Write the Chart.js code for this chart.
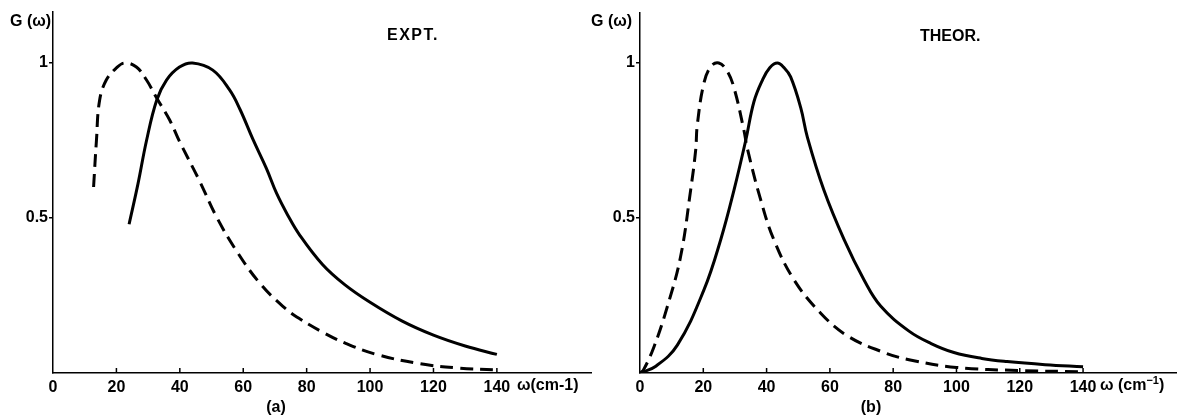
<!DOCTYPE html>
<html>
<head>
<meta charset="utf-8">
<title>G(omega) expt / theor</title>
<script src="https://cdn.jsdelivr.net/npm/chart.js@4.4.1/dist/chart.umd.min.js"></script>
<style>
	html, body { margin: 0; padding: 0; background: #fff; overflow: hidden; }
	#wrap { position: relative; width: 1177px; height: 416px; }
	#exptchart { position: absolute; left: 0; top: 0; }
	#theorchart { position: absolute; left: 590px; top: 0; }
</style>
</head>
<body>
<div id="wrap">
	<canvas id="exptchart" width="592" height="416"></canvas>
	<canvas id="theorchart" width="588" height="416"></canvas>
</div>
<script>
	"use strict";

	// axis ticks
	var xTicks = [0, 20, 40, 60, 80, 100, 120, 140];
	var yTicks = [0.5, 1];

	// (a) EXPT. - solid curve
	var exptSolidW = [24, 26.8, 29.5, 32.7, 35.8, 39.9, 44, 50.4, 55.7, 59, 63, 67.3, 70.5, 74, 77.8, 85, 92, 100, 110, 120, 130, 140];
	var exptSolidG = [0.48, 0.61, 0.75, 0.88, 0.945, 0.987, 1.0, 0.977, 0.913, 0.85, 0.755, 0.66, 0.58, 0.51, 0.445, 0.35, 0.285, 0.228, 0.168, 0.122, 0.087, 0.06];

	// (a) EXPT. - dashed curve
	var exptDashW = [12.8, 13.7, 14.7, 16.8, 20, 22.6, 26.3, 29.5, 32.7, 36.8, 40, 46.2, 51.5, 57.8, 65.2, 72.5, 77.8, 85, 92, 102, 115.7, 128, 140];
	var exptDashG = [0.6, 0.75, 0.88, 0.945, 0.984, 1.0, 0.987, 0.945, 0.887, 0.816, 0.745, 0.62, 0.505, 0.395, 0.29, 0.215, 0.175, 0.132, 0.097, 0.06, 0.03, 0.016, 0.01];

	// (b) THEOR. - solid curve
	var theorSolidW = [0, 5, 11.8, 20.2, 25.5, 29.7, 33.4, 36, 38.7, 41, 43.4, 45.5, 47.6, 50.8, 52.9, 58.1, 64.5, 70.8, 76.1, 85, 92, 99.2, 108, 116, 128, 140];
	var theorSolidG = [0, 0.022, 0.09, 0.268, 0.43, 0.59, 0.75, 0.875, 0.945, 0.985, 1.0, 0.985, 0.955, 0.855, 0.76, 0.59, 0.43, 0.3, 0.215, 0.135, 0.095, 0.066, 0.047, 0.037, 0.027, 0.02];

	// (b) THEOR. - dashed curve
	var theorDashW = [0, 1.1, 4.4, 8.6, 12.8, 16, 17.6, 18.1, 20.2, 22.5, 24.9, 27.5, 29.7, 32.8, 33.9, 38.1, 42.3, 48.7, 57.1, 65.5, 76.1, 85, 100, 120, 140];
	var theorDashG = [0, 0.01, 0.084, 0.213, 0.374, 0.59, 0.72, 0.8, 0.935, 0.99, 1.0, 0.975, 0.92, 0.785, 0.725, 0.56, 0.43, 0.30, 0.193, 0.12, 0.07, 0.043, 0.018, 0.008, 0.004];

	Chart.defaults.font.family = "'Liberation Sans', Arial, sans-serif";
	Chart.defaults.font.size = 16;
	Chart.defaults.font.weight = 'bold';
	Chart.defaults.color = '#000';

	function pts(w, g) {
		return w.map(function (v, i) { return { x: v, y: g[i] }; });
	}

	/*----------------------------------------*/
	/*  text + inward x ticks
	/*----------------------------------------*/
	function notesPlugin(notes) {
		return {
			id: 'notes',
			afterDraw: function (chart) {
				var ctx = chart.ctx;
				var xs = chart.scales.x;
				var bottom = chart.chartArea.bottom;
				ctx.save();
				ctx.strokeStyle = '#000';
				ctx.lineWidth = 1.5;
				xTicks.forEach(function (v) {
					if (v === 0) return;
					var px = xs.getPixelForValue(v);
					ctx.beginPath();
					ctx.moveTo(px, bottom);
					ctx.lineTo(px, bottom - 5);
					ctx.stroke();
				});
				ctx.fillStyle = '#000';
				ctx.textBaseline = 'middle';
				notes.forEach(function (n) {
					// a note is a row of text parts, drawn one after another
					var x = n.x;
					var parts = n.parts || [{ text: n.text }];
					ctx.letterSpacing = n.spacing || '0px';
					ctx.textAlign = n.align || 'left';
					parts.forEach(function (p) {
						ctx.font = 'bold ' + (p.size || 16) + "px 'Liberation Sans', Arial, sans-serif";
						ctx.fillText(p.text, x, n.y + (p.dy || 0));
						x += ctx.measureText(p.text).width;
					});
				});
				ctx.restore();
			}
		};
	}

	function makeOptions(left, top) {
		return {
			responsive: false,
			animation: false,
			layout: { padding: { top: top, left: 0, right: 0, bottom: 0 } },
			plugins: { legend: { display: false }, tooltip: { enabled: false } },
			elements: { point: { radius: 0 }, line: { tension: 0.4 } },
			scales: {
				x: {
					type: 'linear',
					min: 0,
					max: 170,
					afterBuildTicks: function (scale) {
						scale.ticks = xTicks.map(function (v) { return { value: v }; });
					},
					afterFit: function (scale) { scale.height = 416 - 373; },
					ticks: { padding: -3, maxRotation: 0, callback: function (v) { return String(v); } },
					grid: { display: false },
					border: { display: true, color: '#000', width: 1.5 }
				},
				y: {
					type: 'linear',
					min: 0,
					max: (373 - top) / 310,
					afterBuildTicks: function (scale) {
						scale.ticks = yTicks.map(function (v) { return { value: v }; });
					},
					afterFit: function (scale) { scale.width = left; },
					ticks: { padding: 1, callback: function (v) { return String(v); } },
					grid: { display: true, drawOnChartArea: false, drawTicks: true, tickLength: 4, color: '#000', lineWidth: 1.5 },
					border: { display: true, color: '#000', width: 1.5 }
				}
			}
		};
	}

	function solidSet(w, g) {
		return { data: pts(w, g), borderColor: '#000', borderWidth: 3, fill: false };
	}
	function dashSet(w, g) {
		return { data: pts(w, g), borderColor: '#000', borderWidth: 3, borderDash: [13, 7], fill: false };
	}

	/*----------------------------------------*/
	/*  1.  (a) EXPT.
	/*----------------------------------------*/
	var ctx = document.getElementById("exptchart");
	var exptchart = new Chart(ctx, {
		type: 'line',
		data: {
			datasets: [solidSet(exptSolidW, exptSolidG), dashSet(exptDashW, exptDashG)]
		},
		options: makeOptions(53, 12),
		plugins: [notesPlugin([
			{ text: 'G (\u03c9)', x: 10, y: 22 },
			{ text: 'EXPT.', x: 387, y: 36, spacing: '1.5px' },
			{ text: '\u03c9(cm-1)', x: 517, y: 386 },
			{ text: '(a)', x: 276, y: 408, align: 'center' }
		])]
	});

	/*----------------------------------------*/
	/*  2.  (b) THEOR.
	/*----------------------------------------*/
	var ctx = document.getElementById("theorchart");
	var theorchart = new Chart(ctx, {
		type: 'line',
		data: {
			datasets: [solidSet(theorSolidW, theorSolidG), dashSet(theorDashW, theorDashG)]
		},
		options: makeOptions(50, 13),
		plugins: [notesPlugin([
			{ text: 'G (\u03c9)', x: 1, y: 22 },
			{ text: 'THEOR.', x: 330, y: 37 },
			{ x: 510, y: 386, parts: [
				{ text: '\u03c9 (cm' },
				{ text: '\u22121', size: 11, dy: -5 },
				{ text: ')' }
			] },
			{ text: '(b)', x: 281, y: 408, align: 'center' }
		])]
	});
</script>
</body>
</html>
